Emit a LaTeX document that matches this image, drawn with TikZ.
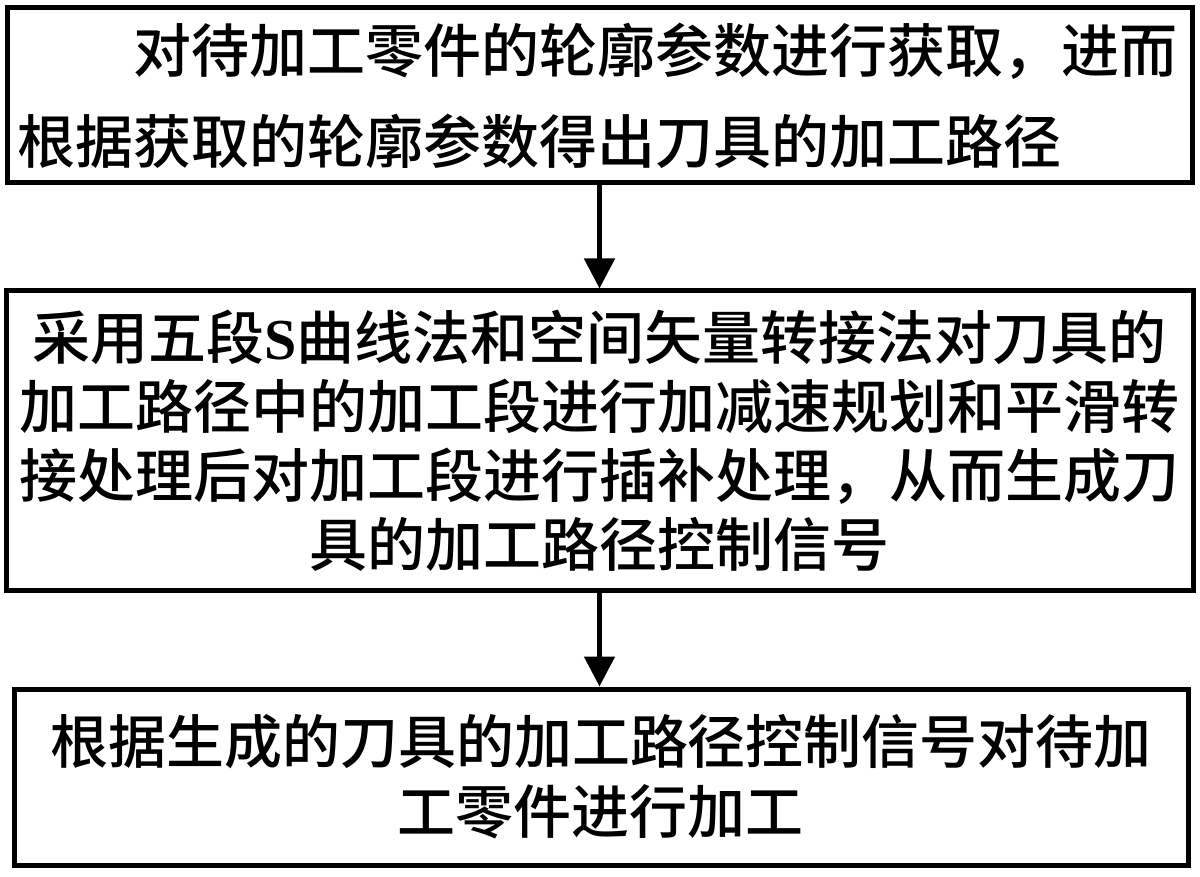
\documentclass[tikz,border=0pt]{standalone}
\usepackage{fontspec}
\newfontfamily\cjk{Noto Sans CJK SC Medium}
\newfontfamily\latinS{Liberation Serif}
\usetikzlibrary{arrows.meta}
\begin{document}
\begin{tikzpicture}[x=0.5pt,y=-0.5pt,
  box/.style={draw, line width=2.5pt, inner sep=0pt},
  arr/.style={line width=2.5pt, -{Triangle[length=15pt,width=15pt]}}]
\useasboundingbox (0,0) rectangle (1200,877);
\node[box, minimum width=592.5pt, minimum height=87.5pt, text width=582pt, align=left,
  font=\cjk\fontsize{29pt}{45.5pt}\selectfont] (b1) at (599.5,95.5)
  {\hspace*{2em}对待加工零件的轮廓参数进行获取，进而\\根据获取的轮廓参数得出刀具的加工路径};
\node[box, minimum width=593.5pt, minimum height=149.5pt, text width=590pt, align=center,
  font=\cjk\fontsize{29pt}{34.5pt}\selectfont] (b2) at (599.5,440.5)
  {采用五段{\latinS\bfseries S}曲线法和空间矢量转接法对刀具的\\加工路径中的加工段进行加减速规划和平滑转\\接处理后对加工段进行插补处理，从而生成刀\\具的加工路径控制信号};
\node[box, minimum width=587pt, minimum height=88pt, text width=580pt, align=center,
  font=\cjk\fontsize{29pt}{35pt}\selectfont] (b3) at (601,777)
  {根据生成的刀具的加工路径控制信号对待加\\工零件进行加工};
\draw[arr] (b1.south) -- (b1.south |- b2.north);
\draw[arr] (b2.south) -- (b2.south |- b3.north);
\end{tikzpicture}
\end{document}
